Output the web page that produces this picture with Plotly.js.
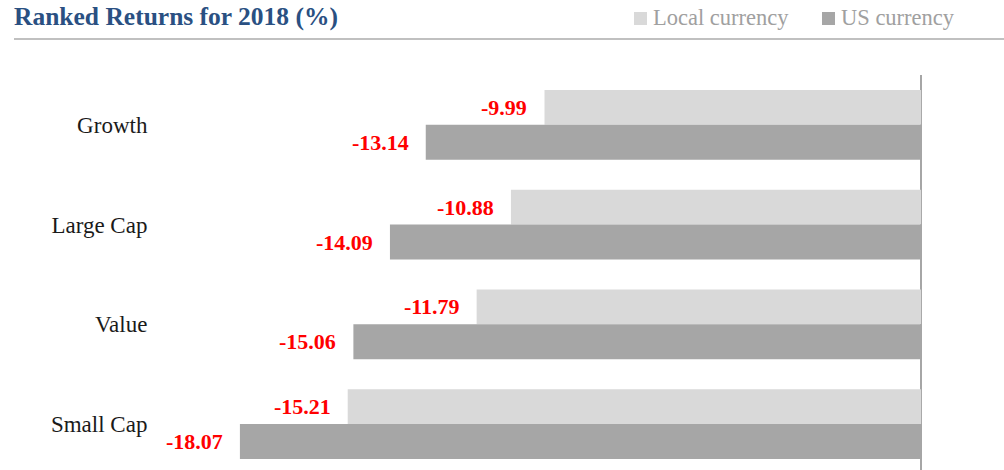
<!DOCTYPE html>
<html>
<head>
<meta charset="utf-8">
<script src="https://cdn.plot.ly/plotly-3.0.1.min.js"></script>
<style>html,body{margin:0;padding:0;background:#fff;}#chart{width:1004px;height:470px;}</style>
</head>
<body>
<div id="chart"></div>
<script>
const categories = ["Growth", "Large Cap", "Value", "Small Cap"];
const localCurrency = [-9.99, -10.88, -11.79, -15.21];
const usCurrency = [-13.14, -14.09, -15.06, -18.07];
const seriesNames = ["Local currency", "US currency"];
const seriesColors = ["#d9d9d9", "#a6a6a6"];
const titleText = "Ranked Returns for 2018 (%)";

const serif = "Liberation Serif, Times New Roman, serif";
const L = 160, T = 75, W = 844, H = 395;
const px = x => (x - L) / W;
const py = y => (T + H - y) / H;

const traces = [localCurrency, usCurrency].map((vals, s) => ({
  type: "bar", orientation: "h", name: seriesNames[s], y: categories, x: vals,
  marker: {color: seriesColors[s], line: {width: 0}}, hoverinfo: "x", showlegend: false
}));

const annotations = [];
[localCurrency, usCurrency].forEach((arr, s) => {
  arr.forEach((v, i) => {
    annotations.push({
      x: v, y: i + (s === 0 ? -0.175 : 0.175), xref: "x", yref: "y",
      text: v.toFixed(2), showarrow: false, xanchor: "right", yanchor: "middle",
      xshift: -15, font: {family: serif, size: 22, color: "#ff0000", weight: "bold"}
    });
  });
});

// manual legend
const legendX = [634, 822];
const shapes = [{type: "line", xref: "paper", yref: "paper",
            x0: px(14), x1: 1, y0: py(39), y1: py(39),
            line: {color: "#c0c0c0", width: 2}}];
seriesNames.forEach((n, s) => {
  shapes.push({type: "rect", xref: "paper", yref: "paper",
    x0: px(legendX[s]), x1: px(legendX[s] + 13), y0: py(25), y1: py(12),
    fillcolor: seriesColors[s], line: {width: 0}});
  annotations.push({xref: "paper", yref: "paper", x: px(legendX[s] + 17), y: py(18),
    xanchor: "left", yanchor: "middle", showarrow: false, text: n,
    font: {family: serif, size: 22.5, color: "#a0a0a0"}});
});

const layout = {
  width: 1004, height: 470,
  margin: {l: L, r: 0, t: T, b: 0},
  paper_bgcolor: "#fff", plot_bgcolor: "#fff",
  barmode: "group", bargap: 0.3, bargroupgap: 0,
  title: {text: "<b>" + titleText + "</b>", xref: "container", yref: "container",
          x: 14/1004, xanchor: "left", y: 1 - 16/470, yanchor: "middle",
          font: {family: serif, size: 25.5, color: "#2a5082"}},
  xaxis: {range: [-20.19, 2.2], showticklabels: false, showgrid: false,
          zeroline: true, zerolinecolor: "#a6a6a6", zerolinewidth: 2, fixedrange: true},
  yaxis: {type: "category", range: [3.46, -0.5], showgrid: false, zeroline: false,
          ticks: "outside", ticklen: 7, tickcolor: "rgba(0,0,0,0)",
          tickfont: {family: serif, size: 23, color: "#1a1a1a"}, fixedrange: true},
  shapes: shapes,
  annotations: annotations,
  showlegend: false
};

Plotly.newPlot("chart", traces, layout, {displayModeBar: false, staticPlot: true});
</script>
</body>
</html>
